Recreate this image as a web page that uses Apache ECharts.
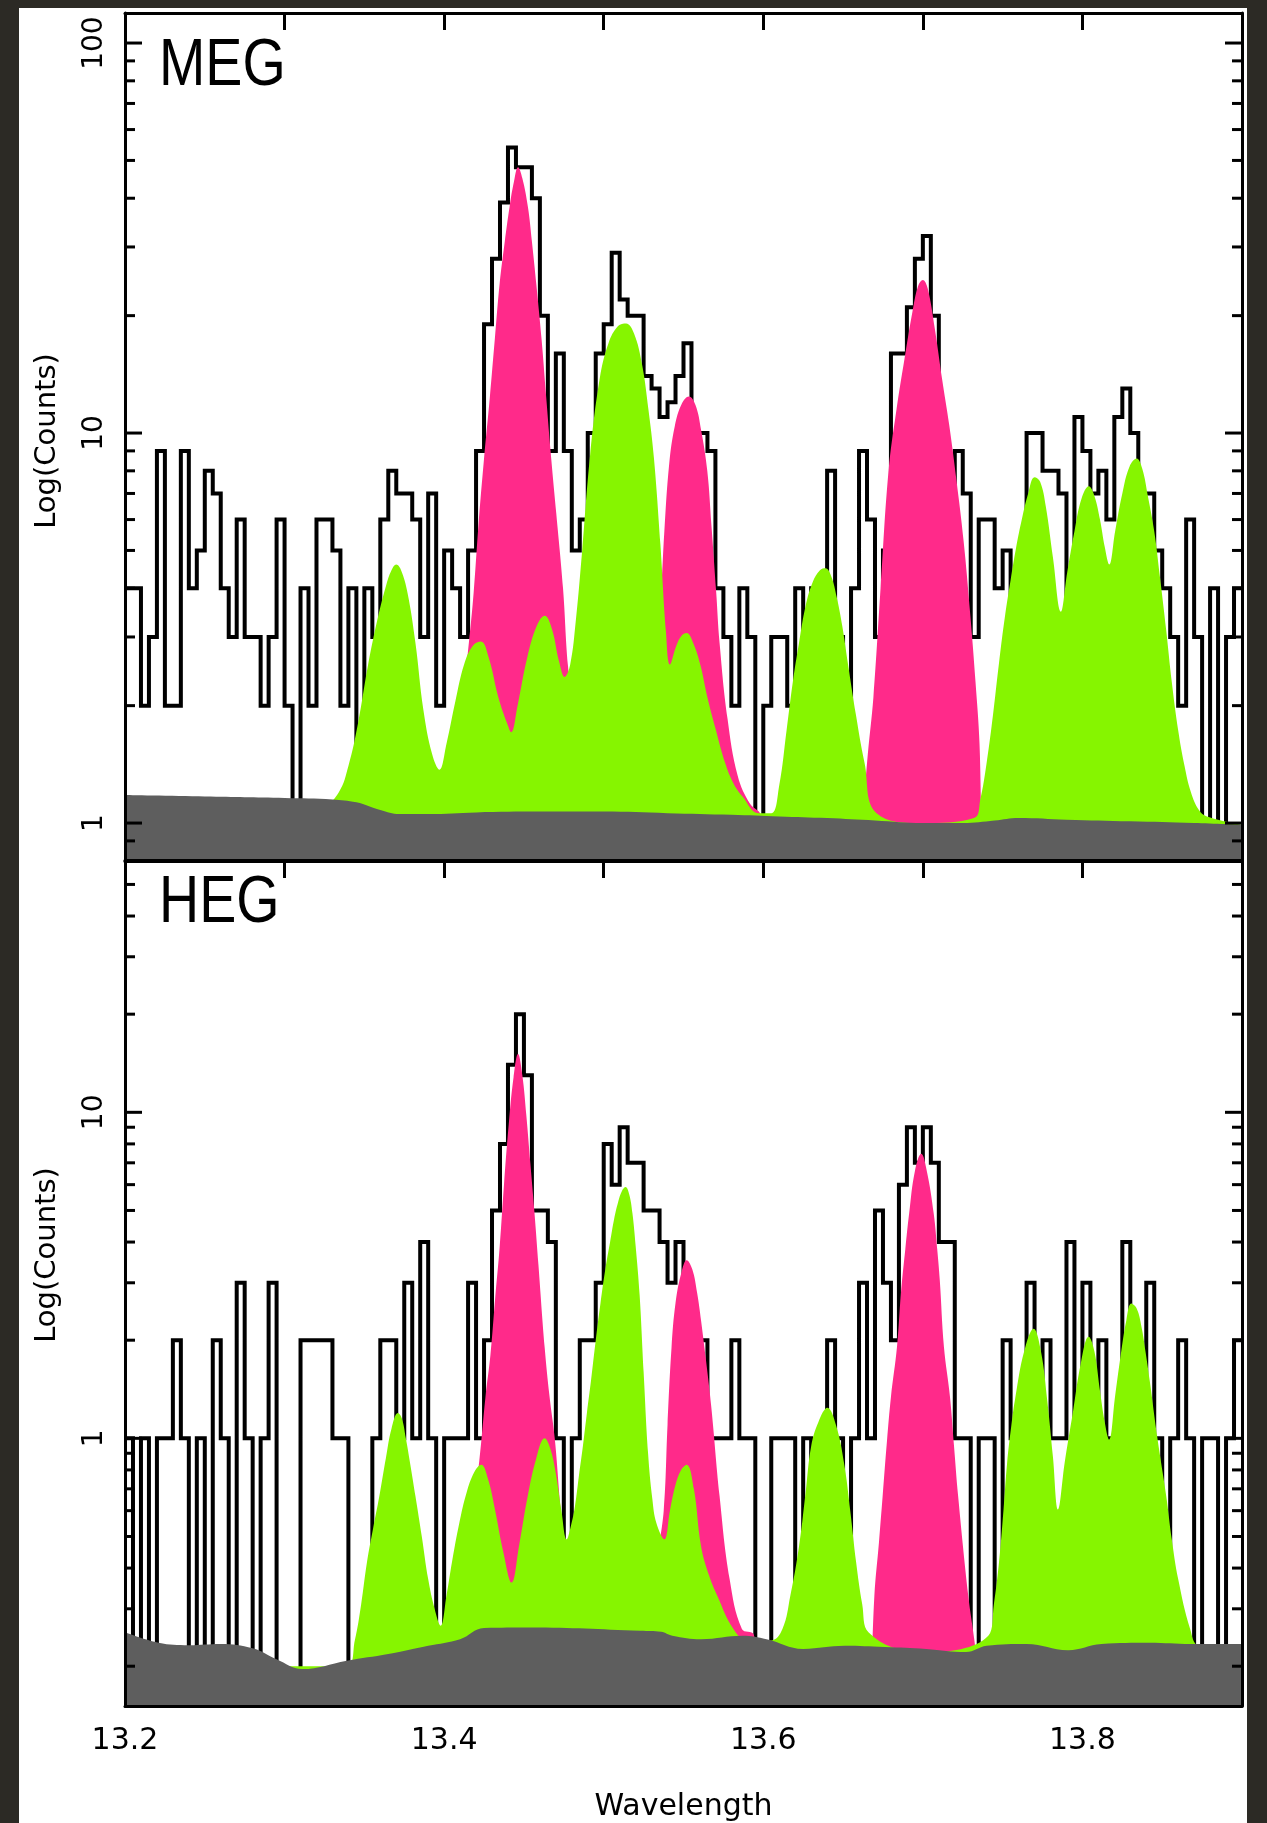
<!DOCTYPE html>
<html>
<head>
<meta charset="utf-8">
<title>MEG / HEG spectra</title>
<script src="https://cdn.jsdelivr.net/npm/echarts@6/dist/echarts.min.js"></script>
<style>
  html, body { margin: 0; padding: 0; background: #2c2a25; }
  #frame { position: absolute; left: 19px; top: 8px; width: 1228px; height: 1815px; background: #ffffff; }
  #chart { position: absolute; left: 0; top: 0; width: 1267px; height: 1823px; }
</style>
</head>
<body>
<div id="frame"></div>
<div id="chart"></div>
<script>
// ---------------- data ----------------
// Wavelength range (Angstrom) and histogram binning
const waveMin = 13.2;
const waveMax = 13.9;
const binWidth = 0.005;

// Tick labels
const waveLabels = [13.2, 13.4, 13.6, 13.8];
const megCountLabels = [1, 10, 100];
const hegCountLabels = [1, 10];
const megTickValues = [0.9, 1, 2, 3, 4, 5, 6, 7, 8, 9, 10, 20, 30, 40, 50, 60, 70, 80, 90, 100];
const hegTickValues = [0.2, 0.3, 0.4, 0.5, 0.6, 0.7, 0.8, 0.9, 1, 2, 3, 4, 5, 6, 7, 8, 9, 10, 20, 30, 40, 50];

// Count-axis extents
const megCountRange = [0.804, 119.4];
const hegCountRange = [0.151, 59];

// Observed counts per bin, starting at waveMin
const megCounts = [
  4, 4, 2, 3, 9, 2, 2, 9, 4, 5,
  8, 7, 4, 3, 6, 3, 3, 2, 3, 6,
  2, 0, 4, 2, 6, 6, 5, 2, 4, 1,
  4, 3, 6, 8, 7, 7, 6, 3, 7, 2,
  5, 4, 3, 5, 9, 19, 28, 39, 54, 48,
  48, 40, 20, 9, 16, 9, 5, 6, 10, 16,
  19, 29, 22, 20, 20, 14, 13, 11, 12, 14,
  17, 10, 10, 9, 4, 3, 2, 4, 3, 1,
  2, 3, 3, 2, 4, 3, 4, 4, 8, 3,
  1, 4, 9, 6, 3, 5, 16, 16, 21, 28,
  32, 20, 10, 6, 9, 7, 3, 6, 6, 4,
  5, 3, 5, 10, 10, 8, 8, 7, 3, 11,
  9, 7, 8, 6, 11, 13, 10, 7, 7, 5,
  4, 3, 2, 6, 3, 0, 4, 0, 3, 4
];
const hegCounts = [
  1, 0, 1, 0, 1, 1, 2, 1, 0, 1,
  0, 2, 1, 0, 3, 1, 0, 1, 3, 0,
  0, 0, 2, 2, 2, 2, 1, 1, 0, 0,
  0, 1, 2, 2, 1, 3, 1, 4, 1, 0,
  1, 1, 1, 3, 1, 2, 5, 8, 14, 20,
  13, 5, 5, 4, 1, 0, 1, 2, 2, 3,
  8, 6, 9, 7, 7, 5, 5, 4, 3, 4,
  3, 2, 2, 1, 1, 1, 2, 1, 1, 0,
  0, 1, 1, 1, 0, 1, 0, 1, 2, 1,
  0, 1, 3, 1, 5, 3, 2, 6, 9, 7,
  9, 7, 4, 4, 1, 1, 0, 1, 1, 0,
  2, 1, 1, 3, 1, 2, 1, 1, 4, 1,
  3, 1, 2, 1, 1, 4, 2, 1, 3, 1,
  0, 1, 2, 1, 0, 1, 1, 0, 1, 2
];

// Model: continuum (grey)
const megContinuum = [
  [13.200, 1.18], [13.250, 1.17], [13.300, 1.16], [13.330, 1.15], [13.345, 1.13],
  [13.360, 1.08], [13.372, 1.055], [13.390, 1.055], [13.420, 1.065], [13.460, 1.07],
  [13.500, 1.07], [13.540, 1.06], [13.580, 1.05], [13.610, 1.04], [13.640, 1.03],
  [13.670, 1.015], [13.700, 1.0], [13.725, 1.0], [13.745, 1.015], [13.760, 1.03],
  [13.790, 1.02], [13.830, 1.01], [13.870, 1.0], [13.900, 0.99]
];
const hegContinuum = [
  [13.200, 0.254], [13.221, 0.236], [13.240, 0.232], [13.260, 0.234], [13.280, 0.227],
  [13.295, 0.21], [13.311, 0.196], [13.339, 0.208], [13.365, 0.218], [13.390, 0.231],
  [13.410, 0.242], [13.425, 0.262], [13.454, 0.263], [13.523, 0.257], [13.536, 0.255],
  [13.543, 0.248], [13.561, 0.242], [13.587, 0.248], [13.602, 0.242], [13.625, 0.226],
  [13.651, 0.231], [13.676, 0.229], [13.702, 0.226], [13.727, 0.221], [13.740, 0.231],
  [13.765, 0.234], [13.791, 0.224], [13.812, 0.234], [13.842, 0.236], [13.868, 0.234],
  [13.900, 0.234]
];

// Model: lines of the main blend (green)
const megGreenModel = [
  [13.200, 1.10], [13.325, 1.12], [13.334, 1.2], [13.340, 1.4], [13.346, 1.8],
  [13.352, 2.5], [13.358, 3.3], [13.3635, 4.05], [13.367, 4.45], [13.370, 4.6],
  [13.373, 4.45], [13.377, 3.9], [13.382, 2.9], [13.387, 1.95], [13.3925, 1.5],
  [13.397, 1.37], [13.4015, 1.6], [13.407, 2.05], [13.4125, 2.55], [13.418, 2.85],
  [13.423, 2.92], [13.428, 2.65], [13.434, 2.1], [13.4395, 1.8], [13.442, 1.71],
  [13.446, 2.0], [13.452, 2.65], [13.458, 3.2], [13.463, 3.4], [13.4675, 3.15],
  [13.472, 2.6], [13.4755, 2.37], [13.479, 2.55], [13.4825, 3.3], [13.4865, 5.0],
  [13.4915, 8.8], [13.4975, 13.8], [13.503, 17.0], [13.509, 18.8], [13.514, 19.1],
  [13.519, 18.0], [13.524, 15.0], [13.528, 11.5], [13.5315, 8.6], [13.5355, 5.2],
  [13.539, 3.1], [13.5415, 2.55], [13.5455, 2.85], [13.549, 3.03], [13.552, 3.07],
  [13.556, 2.9], [13.5605, 2.55], [13.565, 2.1], [13.570, 1.75], [13.576, 1.43],
  [13.5815, 1.26], [13.587, 1.17], [13.597, 1.06], [13.605, 1.06], [13.610, 1.25],
  [13.6146, 1.73], [13.6185, 2.3], [13.6224, 2.9], [13.6265, 3.6], [13.631, 4.15],
  [13.6355, 4.45], [13.639, 4.5], [13.6425, 4.3], [13.646, 3.8], [13.6495, 3.2],
  [13.653, 2.57], [13.658, 1.9], [13.6634, 1.43], [13.671, 1.06], [13.700, 1.0],
  [13.732, 1.03], [13.736, 1.15], [13.740, 1.43], [13.744, 1.9], [13.7477, 2.57],
  [13.7515, 3.4], [13.755, 4.2], [13.7585, 5.1], [13.762, 6.0], [13.766, 7.0],
  [13.770, 7.7], [13.7735, 7.5], [13.777, 6.5], [13.7815, 4.8], [13.7865, 3.48],
  [13.7905, 4.4], [13.795, 5.6], [13.7995, 6.8], [13.804, 7.3], [13.8075, 6.9],
  [13.811, 6.0], [13.814, 5.1], [13.8168, 4.6], [13.8205, 5.6], [13.825, 7.0],
  [13.8295, 8.2], [13.834, 8.6], [13.8375, 8.1], [13.841, 6.9], [13.845, 5.6],
  [13.8485, 4.3], [13.8525, 3.12], [13.856, 2.3], [13.860, 1.73], [13.864, 1.4],
  [13.868, 1.2], [13.873, 1.08], [13.878, 1.04], [13.900, 0.99]
];
const hegGreenModel = [
  [13.200, 0.20], [13.339, 0.20], [13.344, 0.24], [13.348, 0.31], [13.3516, 0.416],
  [13.3555, 0.53], [13.3594, 0.665], [13.3635, 0.87], [13.367, 1.07], [13.371, 1.195],
  [13.3735, 1.15], [13.376, 1.0], [13.379, 0.82], [13.382, 0.665], [13.386, 0.5],
  [13.390, 0.37], [13.394, 0.3], [13.3978, 0.266], [13.4015, 0.33], [13.405, 0.42],
  [13.4095, 0.55], [13.414, 0.68], [13.419, 0.79], [13.4233, 0.83], [13.4275, 0.75],
  [13.432, 0.6], [13.437, 0.45], [13.4423, 0.361], [13.447, 0.47], [13.452, 0.65],
  [13.4575, 0.86], [13.463, 1.0], [13.4665, 0.93], [13.470, 0.78], [13.4735, 0.6],
  [13.4768, 0.49], [13.4795, 0.54], [13.482, 0.62], [13.4845, 0.77], [13.487, 0.95],
  [13.4895, 1.2], [13.492, 1.5], [13.495, 2.0], [13.498, 2.6], [13.501, 3.3],
  [13.504, 4.0], [13.5065, 4.7], [13.509, 5.3], [13.5115, 5.75], [13.5137, 5.9],
  [13.516, 5.6], [13.518, 4.9], [13.520, 3.9], [13.5225, 2.75], [13.525, 1.6],
  [13.5278, 0.9], [13.5305, 0.65], [13.533, 0.55], [13.538, 0.49], [13.5415, 0.6],
  [13.545, 0.72], [13.5485, 0.8], [13.552, 0.83], [13.5565, 0.7], [13.561, 0.467],
  [13.566, 0.38], [13.5713, 0.328], [13.5813, 0.26], [13.590, 0.24], [13.605, 0.24],
  [13.612, 0.26], [13.617, 0.33], [13.6224, 0.467], [13.6265, 0.68], [13.630, 0.945],
  [13.6345, 1.12], [13.6402, 1.24], [13.6455, 1.1], [13.6506, 0.84], [13.6545, 0.6],
  [13.6582, 0.416], [13.662, 0.31], [13.6659, 0.254], [13.700, 0.22], [13.741, 0.248],
  [13.7445, 0.31], [13.7477, 0.416], [13.7505, 0.6], [13.7528, 0.84], [13.7555, 1.1],
  [13.758, 1.34], [13.7635, 1.85], [13.7694, 2.17], [13.774, 1.85], [13.778, 1.3],
  [13.7815, 0.88], [13.7847, 0.605], [13.789, 0.85], [13.794, 1.2], [13.799, 1.7],
  [13.8039, 2.05], [13.8075, 1.85], [13.811, 1.4], [13.814, 1.12], [13.8167, 0.99],
  [13.8205, 1.35], [13.824, 1.8], [13.8275, 2.3], [13.8306, 2.59], [13.834, 2.5],
  [13.837, 2.2], [13.8395, 1.85], [13.8422, 1.5], [13.847, 1.0], [13.8525, 0.665],
  [13.856, 0.49], [13.860, 0.37], [13.8675, 0.26], [13.873, 0.23], [13.900, 0.22]
];

// Model: total including the highlighted lines (pink)
const megPinkLineA = [
  [13.404, 1.5], [13.409, 2.0], [13.413, 2.4], [13.4155, 2.9], [13.4185, 3.9],
  [13.4215, 5.8], [13.425, 8.6], [13.4286, 12.3], [13.4318, 17.5], [13.4348, 24.2],
  [13.438, 31], [13.441, 38], [13.4437, 44], [13.4463, 48], [13.449, 45],
  [13.4525, 38], [13.455, 31], [13.4578, 24], [13.461, 17.5], [13.464, 12.3],
  [13.467, 8.7], [13.4703, 6.2], [13.4745, 4.0], [13.4776, 2.53], [13.481, 2.0]
];
const megPinkLineB = [
  [13.530, 2.0], [13.5357, 3.8], [13.538, 5.6], [13.541, 8.3], [13.5445, 10.4],
  [13.549, 11.9], [13.5534, 12.4], [13.5575, 11.8], [13.561, 10.2], [13.5649, 8.0],
  [13.5675, 5.8], [13.5705, 3.9], [13.5726, 2.9], [13.5776, 1.85], [13.584, 1.32],
  [13.5917, 1.12], [13.598, 1.06], [13.600, 1.0]
];
const megPinkLineC = [
  [13.662, 1.0], [13.6655, 1.5], [13.669, 2.1], [13.6735, 4.0], [13.6785, 8.0],
  [13.6835, 11.5], [13.6885, 15.5], [13.6935, 20.5], [13.697, 23.8], [13.700, 24.7],
  [13.703, 23.5], [13.7075, 18.5], [13.712, 13.8], [13.7165, 10.5], [13.721, 7.6],
  [13.7255, 5.3], [13.7295, 3.5], [13.733, 2.3], [13.7355, 1.6], [13.7365, 1.0]
];
const hegPinkLineA = [
  [13.418, 0.6], [13.422, 0.85], [13.4259, 1.34], [13.429, 1.8], [13.432, 2.7],
  [13.4348, 3.87], [13.4375, 6.0], [13.4405, 9.2], [13.4435, 12.8], [13.4463, 15.1],
  [13.449, 13.0], [13.4515, 9.8], [13.454, 7.0], [13.4565, 5.0], [13.4591, 3.4],
  [13.463, 1.9], [13.466, 1.35], [13.4693, 1.0], [13.4744, 0.526], [13.478, 0.45]
];
const hegPinkLineB = [
  [13.534, 0.45], [13.5376, 0.6], [13.540, 1.1], [13.5425, 1.9], [13.545, 2.6],
  [13.5485, 3.2], [13.552, 3.52], [13.5555, 3.3], [13.5585, 2.8], [13.561, 2.3],
  [13.564, 1.75], [13.5674, 1.25], [13.5726, 0.665], [13.5789, 0.37], [13.5866, 0.26],
  [13.594, 0.25], [13.596, 0.2]
];
const hegPinkLineC = [
  [13.668, 0.2], [13.6696, 0.328], [13.6725, 0.48], [13.6748, 0.665], [13.6775, 0.98],
  [13.680, 1.34], [13.6838, 1.91], [13.6863, 2.8], [13.689, 3.8], [13.6914, 4.89],
  [13.695, 6.6], [13.699, 7.46], [13.7025, 6.6], [13.7068, 4.89], [13.709, 3.8],
  [13.7106, 3.06], [13.7132, 1.91], [13.717, 1.34], [13.7195, 0.95], [13.7221, 0.665],
  [13.7285, 0.328], [13.7323, 0.24], [13.734, 0.2]
];

// ---------------- styling ----------------
const GREEN = '#86f500';
const PINK = '#ff2a8a';
const GREY = '#5e5e5e';
const INK = '#000000';
const LABEL_FONT = '"DejaVu Sans", "Liberation Sans", sans-serif';

// Zero counts cannot sit on a log axis; push them below the visible range.
const belowAxis = 1e-3;

function histogramPoints(counts) {
  const pts = counts.map((c, i) => [+(waveMin + i * binWidth).toFixed(4), c > 0 ? c : belowAxis]);
  pts.push([waveMax, pts[pts.length - 1][1]]);
  return pts;
}

function near(list, v) {
  return list.some(function (w) { return Math.abs(w - v) < 1e-6 * Math.max(1, Math.abs(w)); });
}

function fillSeries(data, color, xi, yi, z) {
  return {
    type: 'line', xAxisIndex: xi, yAxisIndex: yi, data: data,
    smooth: 0.4, symbol: 'none', silent: true,
    lineStyle: { width: 0, opacity: 0 },
    areaStyle: { color: color, opacity: 1, origin: 'start' },
    z: z, animation: false
  };
}

function tickSeries(values, majors, xi, yi) {
  return {
    type: 'custom', xAxisIndex: xi, yAxisIndex: yi, z: 20, silent: true, animation: false,
    data: values.map(function (v) { return [waveMin, v, near(majors, v) ? 1 : 0]; }),
    renderItem: function (params, api) {
      const v = api.value(1);
      const len = api.value(2) === 1 ? 17 : 10;
      const l = api.coord([waveMin, v]);
      const r = api.coord([waveMax, v]);
      return {
        type: 'group',
        children: [
          { type: 'line', shape: { x1: l[0], y1: l[1], x2: l[0] + len, y2: l[1] }, style: { stroke: INK, lineWidth: 3 } },
          { type: 'line', shape: { x1: r[0], y1: r[1], x2: r[0] - len, y2: r[1] }, style: { stroke: INK, lineWidth: 3 } }
        ]
      };
    }
  };
}

function panelSeries(panel, counts, green, pinks, continuum, ticks, majors) {
  const xi = panel * 2, yi = panel * 2;
  const out = [{
    type: 'line', xAxisIndex: xi, yAxisIndex: yi, data: histogramPoints(counts),
    step: 'end', symbol: 'none', silent: true, clip: true,
    lineStyle: { color: INK, width: 4, join: 'miter' }, z: 1, animation: false
  }];
  pinks.forEach(function (p) { out.push(fillSeries(p, PINK, xi, yi, 2)); });
  out.push(fillSeries(green, GREEN, xi, yi, 3));
  out.push(fillSeries(continuum, GREY, xi, yi, 4));
  out.push(tickSeries(ticks, majors, xi, yi));
  return out;
}

const frameLine = { show: true, lineStyle: { color: INK, width: 3 } };
const topTicks = { show: true, inside: true, length: 17, lineStyle: { color: INK, width: 3 } };

function xAxisDef(grid, position, showLabels, tick, name) {
  return {
    type: 'value', gridIndex: grid, position: position, min: waveMin, max: waveMax, interval: 0.1,
    axisLine: frameLine, axisTick: tick, splitLine: { show: false }, z: 10,
    axisLabel: {
      show: showLabels, color: INK, fontSize: 30, fontFamily: LABEL_FONT, margin: 20,
      formatter: function (v) { return near(waveLabels, v) ? v.toFixed(1) : ''; }
    },
    name: name || '', nameLocation: 'middle', nameGap: 86,
    nameTextStyle: { color: INK, fontSize: 30, fontFamily: LABEL_FONT }
  };
}

function yAxisDef(grid, position, range, labels) {
  const left = position === 'left';
  return {
    type: 'log', logBase: 10, gridIndex: grid, position: position, min: range[0], max: range[1],
    axisLine: frameLine, axisTick: { show: false }, splitLine: { show: false }, z: 10,
    axisLabel: {
      show: left, rotate: 90, color: INK, fontSize: 28, fontFamily: LABEL_FONT, margin: 16,
      showMinLabel: false, showMaxLabel: false,
      formatter: function (v) { return near(labels, v) ? String(Math.round(v)) : ''; }
    }
  };
}

function countsTitle(y) {
  return {
    type: 'text', x: 47, y: y, rotation: Math.PI / 2, z: 30, silent: true,
    style: { text: 'Log(Counts)', font: '29px "DejaVu Sans", sans-serif', fill: INK, align: 'center', verticalAlign: 'middle' }
  };
}

function panelTitle(text, y) {
  return {
    type: 'text', x: 159, y: y, scaleX: 0.83, z: 30, silent: true,
    style: { text: text, font: '67px "Liberation Sans", Arial, sans-serif', fill: INK, verticalAlign: 'middle' }
  };
}

const chart = echarts.init(document.getElementById('chart'), null, { renderer: 'canvas' });
chart.setOption({
  animation: false,
  backgroundColor: 'transparent',
  grid: [
    { left: 125, right: 25, top: 13, height: 847 },
    { left: 125, right: 25, top: 861, height: 849 }
  ],
  xAxis: [
    xAxisDef(0, 'bottom', false, { show: false }),
    xAxisDef(0, 'top', false, topTicks),
    xAxisDef(1, 'bottom', true, { show: false }, 'Wavelength'),
    xAxisDef(1, 'top', false, topTicks)
  ],
  yAxis: [
    yAxisDef(0, 'left', megCountRange, megCountLabels),
    yAxisDef(0, 'right', megCountRange, megCountLabels),
    yAxisDef(1, 'left', hegCountRange, hegCountLabels),
    yAxisDef(1, 'right', hegCountRange, hegCountLabels)
  ],
  graphic: [
    panelTitle('MEG', 67),
    panelTitle('HEG', 904),
    countsTitle(441),
    countsTitle(1255)
  ],
  series: [].concat(
    panelSeries(0, megCounts, megGreenModel, [megPinkLineA, megPinkLineB, megPinkLineC], megContinuum, megTickValues, megCountLabels),
    panelSeries(1, hegCounts, hegGreenModel, [hegPinkLineA, hegPinkLineB, hegPinkLineC], hegContinuum, hegTickValues, hegCountLabels)
  )
});
</script>
</body>
</html>
